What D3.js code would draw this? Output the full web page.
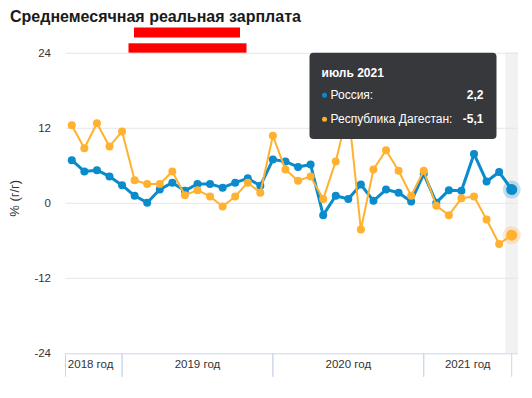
<!DOCTYPE html>
<html><head><meta charset="utf-8">
<script src="https://cdn.jsdelivr.net/npm/d3@7"></script>
<style>
html,body{margin:0;padding:0;background:#fff;}
svg{display:block;font-family:"Liberation Sans",Arial,sans-serif;}
</style></head>
<body>
<svg id="c" width="532" height="398"></svg>
<script>
const titleText = "Среднемесячная реальная зарплата";
const yAxisTitle = "% (г/г)";
const months = ["август 2018","сентябрь 2018","октябрь 2018","ноябрь 2018","декабрь 2018",
  "январь 2019","февраль 2019","март 2019","апрель 2019","май 2019","июнь 2019","июль 2019","август 2019","сентябрь 2019","октябрь 2019","ноябрь 2019","декабрь 2019",
  "январь 2020","февраль 2020","март 2020","апрель 2020","май 2020","июнь 2020","июль 2020","август 2020","сентябрь 2020","октябрь 2020","ноябрь 2020","декабрь 2020",
  "январь 2021","февраль 2021","март 2021","апрель 2021","май 2021","июнь 2021","июль 2021"];
const russia = [6.9,5.1,5.3,4.3,2.9,1.2,0.1,2.2,3.3,2.0,3.1,3.1,2.5,3.3,4.0,2.8,7.0,6.7,5.8,6.2,-1.9,1.2,0.7,3.0,0.4,2.2,1.7,0.3,4.7,0.1,2.1,2.0,7.9,3.5,5.0,2.2];
const dagestan = [12.5,8.8,12.8,9.1,11.5,3.7,3.1,3.1,5.1,1.3,2.1,1.1,-0.5,1.1,3.3,1.7,10.8,5.4,3.6,4.3,0.7,6.7,15.0,-4.2,5.4,8.5,5.2,1.2,5.2,-0.4,-1.9,0.8,1.1,-2.6,-6.5,-5.1];
const seriesNames = ["Россия","Республика Дагестан"];
const seriesColors = ["#0a8bcb","#ffb12f"];
const yTicks = [-24,-12,0,12,24];
const yearLabels = ["2018 год","2019 год","2020 год","2021 год"];
const hoverIndex = 35;

const svg = d3.select("#c");
const L = 65.5, R = 518, T = 53.3, B = 353.3;
const n = months.length;
const x = d3.scaleLinear().domain([-0.5, n - 0.5]).range([L, R]);
const y = d3.scaleLinear().domain([-24, 24]).range([B, T]);

// title
svg.append("text").attr("x", 10).attr("y", 22).attr("font-size", 16).attr("font-weight", "bold")
  .attr("fill", "#1a1a1a").text(titleText);
// redaction bars
svg.append("rect").attr("x", 134).attr("y", 27.5).attr("width", 106).attr("height", 10).attr("fill", "#ff0000");
svg.append("rect").attr("x", 128.5).attr("y", 43.3).attr("width", 118).attr("height", 9.5).attr("fill", "#ff0000");

// hover band
const step = x(1) - x(0);
svg.append("rect").attr("x", x(hoverIndex) - step / 2).attr("y", T - 1).attr("width", step)
  .attr("height", B - T + 1).attr("fill", "#f2f2f2");

// grid
const gy = svg.append("g");
yTicks.forEach(t => {
  if (t !== -24) gy.append("line").attr("x1", L).attr("x2", R).attr("y1", y(t)).attr("y2", y(t))
    .attr("stroke", "#e6e6e6").attr("stroke-width", 1);
  gy.append("text").attr("x", 51).attr("y", y(t) + 4).attr("text-anchor", "end")
    .attr("font-size", 11.5).attr("fill", "#333").text(t);
});
svg.append("text").attr("transform", `translate(19,${y(0) - 5}) rotate(-90)`).attr("text-anchor", "middle")
  .attr("font-size", 13).attr("fill", "#333").text(yAxisTitle);

// x axis (grouped by year)
const ax = svg.append("g");
ax.append("line").attr("x1", L).attr("x2", R).attr("y1", B + 0.5).attr("y2", B + 0.5).attr("stroke", "#ccd6eb");
const years = months.map(m => +m.split(" ")[1]);
const yearVals = Array.from(new Set(years));
yearVals.forEach((yr, i) => {
  const first = years.indexOf(yr), last = years.lastIndexOf(yr);
  const a = x(first - 1), b = x(last);
  const tickA = Math.max(a, L);
  [tickA, b].forEach(px => ax.append("line").attr("x1", px).attr("x2", px).attr("y1", B).attr("y2", B + 23.5)
    .attr("stroke", "#ccd6eb"));
  ax.append("text").attr("x", (a + b) / 2).attr("y", B + 15).attr("text-anchor", "middle")
    .attr("font-size", 11.5).attr("fill", "#333").text(yearLabels[i]);
});

// series
const data = [russia, dagestan];
const widths = [3, 2];
data.forEach((vals, s) => {
  const g = svg.append("g");
  const line = d3.line().x((d, i) => x(i)).y(d => y(d));
  g.append("path").attr("d", line(vals)).attr("fill", "none").attr("stroke", seriesColors[s])
    .attr("stroke-width", widths[s]).attr("stroke-linejoin", "round");
  g.selectAll("circle.p").data(vals).join("circle").attr("class", "p")
    .attr("cx", (d, i) => x(i)).attr("cy", d => y(d)).attr("r", (d, i) => i === hoverIndex ? 0 : 4)
    .attr("fill", seriesColors[s]);
  g.append("circle").attr("cx", x(hoverIndex)).attr("cy", y(vals[hoverIndex])).attr("r", 9)
    .attr("fill", seriesColors[s]).attr("opacity", 0.25);
  g.append("circle").attr("cx", x(hoverIndex)).attr("cy", y(vals[hoverIndex])).attr("r", 5.5)
    .attr("fill", seriesColors[s]);
});

// tooltip
const fmt = v => String(v.toFixed(1)).replace(".", ",");
const tx = 309.5, tw = 187, ty = 52.7, th = 86.3;
const tt = svg.append("g");
tt.append("rect").attr("x", tx).attr("y", ty).attr("width", tw).attr("height", th).attr("rx", 4)
  .attr("fill", "#37383c");
tt.append("text").attr("x", tx + 12).attr("y", ty + 24.5).attr("font-size", 12).attr("font-weight", "bold")
  .attr("fill", "#fff").text(months[hoverIndex]);
data.forEach((vals, s) => {
  const by = ty + 46 + s * 24;
  tt.append("circle").attr("cx", tx + 15).attr("cy", by - 3.5).attr("r", 2.5).attr("fill", seriesColors[s]);
  tt.append("text").attr("x", tx + 21).attr("y", by).attr("font-size", 12).attr("fill", "#fff")
    .text(seriesNames[s] + ":");
  tt.append("text").attr("x", tx + tw - 13).attr("y", by).attr("text-anchor", "end").attr("font-size", 12)
    .attr("font-weight", "bold").attr("fill", "#fff").text(fmt(vals[hoverIndex]));
});
</script>
</body></html>
